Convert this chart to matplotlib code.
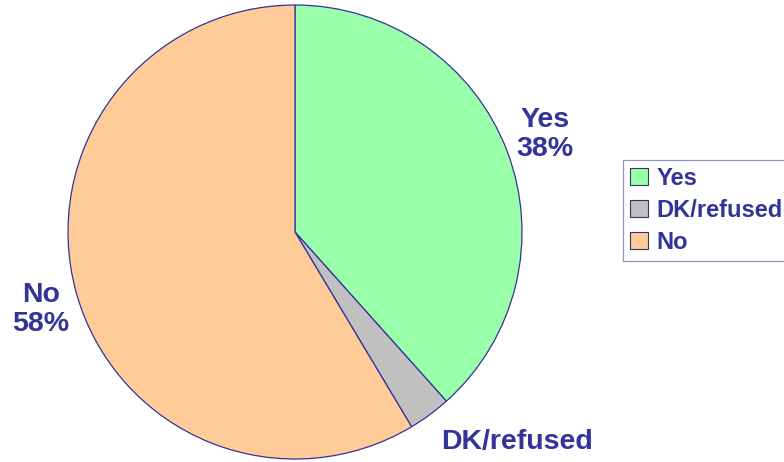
import matplotlib
matplotlib.use("Agg")
import matplotlib.pyplot as plt
from matplotlib.patches import Patch

plt.rcParams['font.family'] = ['Liberation Sans', 'DejaVu Sans']

labels = ['Yes', 'DK/refused', 'No']
values = [38, 3, 58]
colors = ['#99FFAA', '#C0C0C0', '#FFCC99']
txt_color = '#333399'

fig = plt.figure(figsize=(7.84, 4.62), dpi=100)
ax = fig.add_axes([68/784, 3/462, 454/784, 454/462])

wedges, _ = ax.pie(values, colors=colors, startangle=90, counterclock=False,
                   wedgeprops=dict(edgecolor=txt_color, linewidth=0.9))
ax.set_xlim(-1, 1)
ax.set_ylim(-1, 1)
ax.set_aspect('auto')
ax.axis('off')

# slice labels
ax.text(1.10, 0.43, 'Yes\n38%', ha='center', va='center', fontsize=20.5,
        fontweight='bold', color=txt_color, linespacing=1.15)
ax.text(-1.12, -0.34, 'No\n58%', ha='center', va='center', fontsize=20.5,
        fontweight='bold', color=txt_color, linespacing=1.15)
ax.text(0.98, -0.925, 'DK/refused', ha='center', va='center', fontsize=20.5,
        fontweight='bold', color=txt_color, clip_on=False)

handles = [Patch(facecolor=c, edgecolor='#333366', linewidth=0.8) for c in colors]
leg = fig.legend(handles, labels, loc='upper left',
                 bbox_to_anchor=(623/784, 1 - 160/462), frameon=True,
                 fancybox=False, edgecolor='#7777bb', fontsize=17,
                 handlelength=0.75, handleheight=0.75, handletextpad=0.35,
                 labelspacing=0.38, borderpad=0.3, borderaxespad=0)
for t in leg.get_texts():
    t.set_color(txt_color)
    t.set_fontweight('bold')
leg.get_frame().set_linewidth(0.9)

fig.savefig('out.png', dpi=100)
